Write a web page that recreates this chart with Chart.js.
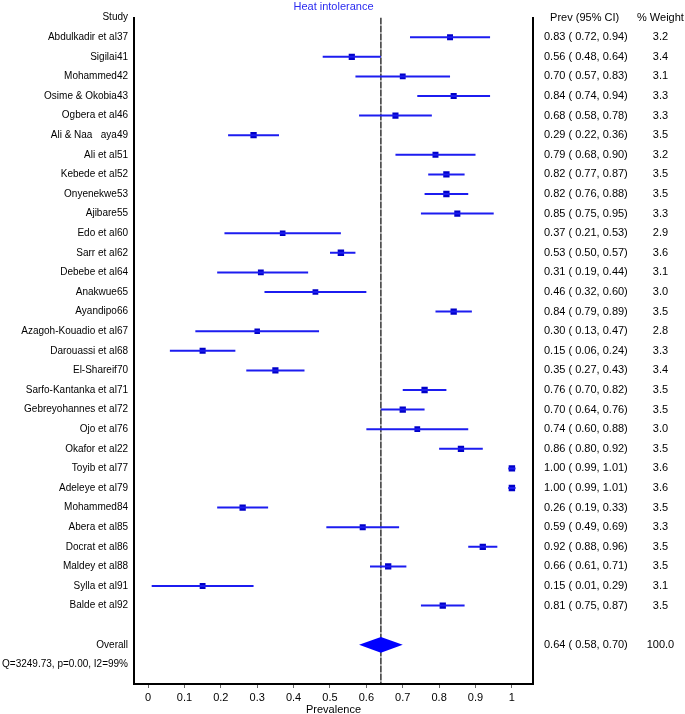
<!DOCTYPE html>
<html>
<head>
<meta charset="utf-8">
<script src="https://cdn.jsdelivr.net/npm/chart.js@4"></script>
<style>
  body { margin: 0; background: #fff; }
  #wrap { width: 685px; height: 714px; position: relative; }
</style>
</head>
<body>
<div id="wrap"><canvas id="forest"></canvas></div>
<script>
// study data
const studies = ["Abdulkadir et al37", "Sigilai41", "Mohammed42", "Osime & Okobia43", "Ogbera et al46",
  "Ali & Naa   aya49", "Ali et al51", "Kebede et al52", "Onyenekwe53", "Ajibare55", "Edo et al60",
  "Sarr et al62", "Debebe et al64", "Anakwue65", "Ayandipo66", "Azagoh-Kouadio et al67", "Darouassi et al68",
  "El-Shareif70", "Sarfo-Kantanka et al71", "Gebreyohannes et al72", "Ojo et al76", "Okafor et al22",
  "Toyib et al77", "Adeleye et al79", "Mohammed84", "Abera et al85", "Docrat et al86", "Maldey et al88",
  "Sylla et al91", "Balde et al92"];
const prev = [0.83, 0.56, 0.70, 0.84, 0.68, 0.29, 0.79, 0.82, 0.82, 0.85, 0.37, 0.53, 0.31, 0.46, 0.84,
  0.30, 0.15, 0.35, 0.76, 0.70, 0.74, 0.86, 1.00, 1.00, 0.26, 0.59, 0.92, 0.66, 0.15, 0.81];
const lower = [0.72, 0.48, 0.57, 0.74, 0.58, 0.22, 0.68, 0.77, 0.76, 0.75, 0.21, 0.50, 0.19, 0.32, 0.79,
  0.13, 0.06, 0.27, 0.70, 0.64, 0.60, 0.80, 0.99, 0.99, 0.19, 0.49, 0.88, 0.61, 0.01, 0.75];
const upper = [0.94, 0.64, 0.83, 0.94, 0.78, 0.36, 0.90, 0.87, 0.88, 0.95, 0.53, 0.57, 0.44, 0.60, 0.89,
  0.47, 0.24, 0.43, 0.82, 0.76, 0.88, 0.92, 1.01, 1.01, 0.33, 0.69, 0.96, 0.71, 0.29, 0.87];
const weight = [3.2, 3.4, 3.1, 3.3, 3.3, 3.5, 3.2, 3.5, 3.5, 3.3, 2.9, 3.6, 3.1, 3.0, 3.5,
  2.8, 3.3, 3.4, 3.5, 3.5, 3.0, 3.5, 3.6, 3.6, 3.5, 3.3, 3.5, 3.5, 3.1, 3.5];

const overall = { prev: 0.64, lower: 0.58, upper: 0.70, weight: 100.0 };
const hetText = "Q=3249.73, p=0.00, I2=99%";
const xTicks = [0, 0.1, 0.2, 0.3, 0.4, 0.5, 0.6, 0.7, 0.8, 0.9, 1];

// rows: 0 header, 1..30 studies, 32 overall, 33 heterogeneity
const overallRow = studies.length + 2;
const lastRow = studies.length + 4;

const leftLabels = {0: "Study", [overallRow]: "Overall", [overallRow + 1]: hetText};
const ciLabels = {0: "  Prev (95% CI)"};
const wLabels = {0: "% Weight"};
studies.forEach((s, i) => {
  leftLabels[i + 1] = s;
  ciLabels[i + 1] = `${prev[i].toFixed(2)} ( ${lower[i].toFixed(2)}, ${upper[i].toFixed(2)})`;
  wLabels[i + 1] = weight[i].toFixed(1);
});
ciLabels[overallRow] = `${overall.prev.toFixed(2)} ( ${overall.lower.toFixed(2)}, ${overall.upper.toFixed(2)})`;
wLabels[overallRow] = overall.weight.toFixed(1);

// CI segments, broken with null gaps
const ciData = [];
studies.forEach((s, i) => {
  ciData.push({x: lower[i], y: i + 1}, {x: upper[i], y: i + 1}, {x: null, y: null});
});
const pointData = prev.map((p, i) => ({x: p, y: i + 1}));

Chart.defaults.font.family = "'Liberation Sans', Arial, sans-serif";
Chart.defaults.font.size = 11;
Chart.defaults.color = "#000";

const diamondPlugin = {
  id: "diamond",
  afterDatasetsDraw(chart) {
    const {ctx, scales: {x, y}} = chart;
    const cy = y.getPixelForValue(overallRow);
    const h = y.getPixelForValue(overallRow + 0.4) - cy;
    ctx.save();
    ctx.fillStyle = "#0000ff";
    ctx.beginPath();
    ctx.moveTo(x.getPixelForValue(overall.lower), cy);
    ctx.lineTo(x.getPixelForValue(overall.prev), cy - h);
    ctx.lineTo(x.getPixelForValue(overall.upper), cy);
    ctx.lineTo(x.getPixelForValue(overall.prev), cy + h);
    ctx.closePath();
    ctx.fill();
    ctx.restore();
  }
};

const rowAxis = (extra) => Object.assign({
  type: "linear",
  min: 0,
  max: lastRow,
  reverse: true,
  grid: { display: false, drawTicks: false },
  afterBuildTicks: (scale) => {
    scale.ticks = [];
    for (let r = 0; r <= lastRow; r++) scale.ticks.push({value: r});
  },
}, extra);

new Chart(document.getElementById("forest"), {
  type: "scatter",
  data: {
    datasets: [
      {
        label: "CI",
        data: ciData,
        showLine: true,
        spanGaps: false,
        borderColor: "#1c1cf0",
        borderWidth: 2,
        pointRadius: 0,
      },
      {
        label: "Prevalence",
        data: pointData,
        pointStyle: "rect",
        pointRadius: weight.map((w) => 3.9 + (w - 2.8) * 0.8),
        backgroundColor: "#0000c8",
        borderColor: "#0000c8",
        borderWidth: 0,
      },
      {
        label: "Overall line",
        data: [{x: overall.prev, y: 0}, {x: overall.prev, y: lastRow}],
        showLine: true,
        borderColor: "#000",
        borderWidth: 1.2,
        borderDash: [7, 1],
        pointRadius: 0,
      },
    ],
  },
  options: {
    animation: false,
    responsive: true,
    maintainAspectRatio: false,
    layout: { padding: 0 },
    plugins: {
      legend: { display: false },
      tooltip: { enabled: false },
      title: {
        display: true,
        text: "Heat intolerance",
        color: "#2a2af0",
        fullSize: false,
        font: { size: 11, weight: "normal" },
        padding: { top: 0, bottom: 4 },
      },
    },
    scales: {
      x: {
        type: "linear",
        min: -0.0386,
        max: 1.058,
        border: { color: "#000", width: 2 },
        grid: { drawOnChartArea: false, drawTicks: true, tickLength: 4, color: "#666" },
        ticks: { padding: 3, includeBounds: false, autoSkip: false, maxRotation: 0,
          callback: (v) => String(v) },
        afterBuildTicks: (scale) => { scale.ticks = xTicks.map((v) => ({value: v})); },
        afterFit: (scale) => { scale.height = 30; },
        title: { display: true, text: "Prevalence", padding: 0, font: { size: 11, lineHeight: 0.8 } },
      },
      y: rowAxis({
        position: "left",
        border: { color: "#000", width: 2 },
        ticks: { padding: 6, autoSkip: false, font: { size: 10 }, callback: (v) => leftLabels[v] || "" },
        afterFit: (scale) => { scale.width = 134; },
      }),
      yCI: rowAxis({
        position: "right",
        weight: 0,
        border: { color: "#000", width: 2 },
        ticks: { padding: 11, autoSkip: false, callback: (v) => ciLabels[v] || "" },
        afterFit: (scale) => { scale.width = 104; },
      }),
      yW: rowAxis({
        position: "right",
        weight: 1,
        border: { display: false },
        ticks: { padding: 0, autoSkip: false, crossAlign: "center", callback: (v) => wLabels[v] || "" },
        afterFit: (scale) => { scale.width = 48; },
      }),
    },
  },
  plugins: [diamondPlugin],
});
</script>
</body>
</html>
